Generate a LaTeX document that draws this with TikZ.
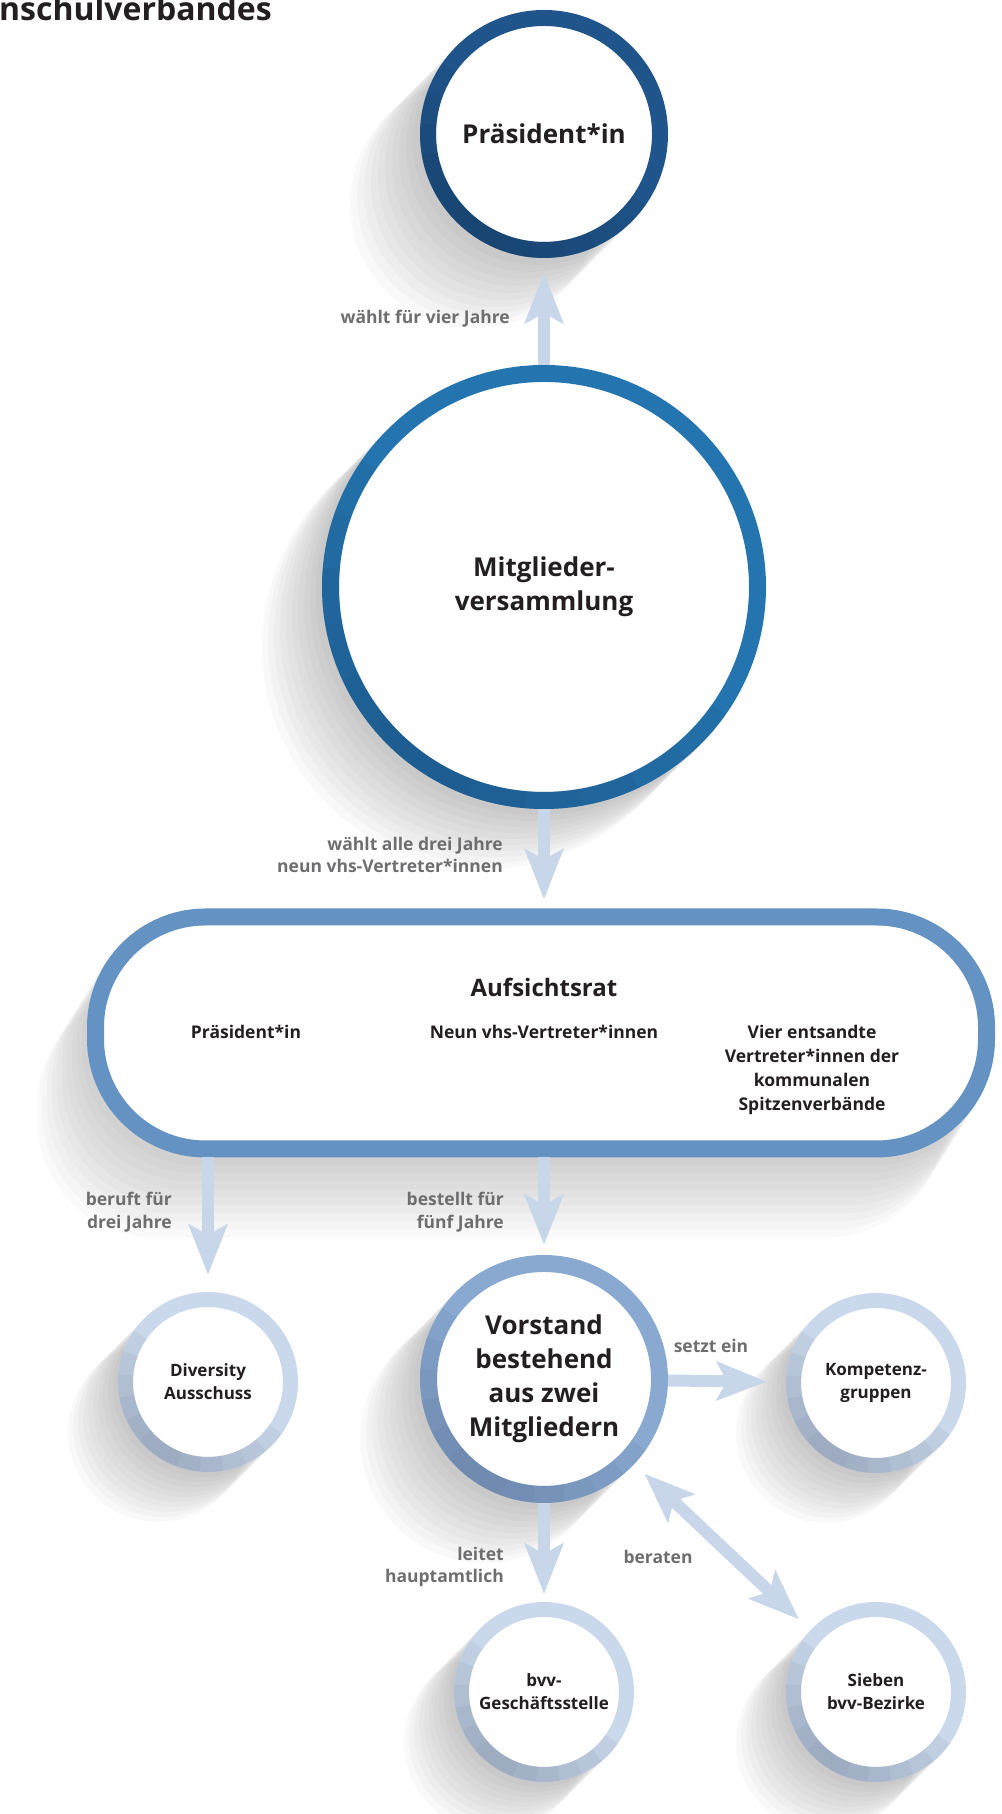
\documentclass[tikz,border=0pt]{standalone}
\usepackage{fontspec}
\setmainfont{Open Sans}
\usetikzlibrary{calc}
\usetikzlibrary{arrows.meta}
\usetikzlibrary{backgrounds}
\usetikzlibrary{positioning}

\definecolor{presblue}{HTML}{1F558A}
\definecolor{presdark}{HTML}{163C62}
\definecolor{mvblue}{HTML}{2474AF}
\definecolor{mvdark}{HTML}{1B4E7C}
\definecolor{arblue}{HTML}{6392C3}
\definecolor{vsblue}{HTML}{89A9D1}
\definecolor{vsdark}{HTML}{5E7598}
\definecolor{lightblue}{HTML}{C9D8EA}
\definecolor{lightdark}{HTML}{7E8CA4}
\definecolor{arrowblue}{HTML}{C7D6E9}
\definecolor{labelgrey}{HTML}{6E6E70}
\definecolor{textblack}{HTML}{231F20}

\begin{document}
\begin{tikzpicture}[x=1pt, y=1pt,
    ring/.style={circle, fill=white, inner sep=0pt, align=center, text=textblack},
    bigtext/.style={font=\fontsize{26}{34}\selectfont\bfseries},
    smalltext/.style={font=\fontsize{17}{23}\selectfont\bfseries},
    member/.style={align=center, inner sep=0pt, text=textblack, font=\fontsize{17.5}{24}\selectfont\bfseries},
    edgelabel/.style={align=right, inner sep=0pt, text=labelgrey, font=\fontsize{17.5}{22.5}\selectfont\bfseries},
    flow/.style={draw=arrowblue, line width=12pt, -{Stealth[length=50pt, width=38pt, inset=10pt]}},
    twoway/.style={draw=arrowblue, line width=12pt, {Stealth[length=50pt, width=38pt, inset=10pt]}-{Stealth[length=50pt, width=38pt, inset=10pt]}}
    ]

    % Constants
    \pgfmathsetmacro{\cx}{544}
    \pgfmathsetmacro{\lx}{208}
    \pgfmathsetmacro{\rx}{876}

    \useasboundingbox (0,0) rectangle (1001,1814);

    % Heading (cut off at the top)
    \node [anchor=base west, inner sep=0pt, text=textblack, font=\fontsize{32}{38}\selectfont\bfseries] (heading) at (-1,1793) {nschulverbandes};

    % Circles
    \node [ring, draw=presblue, line width=16pt, minimum size=232pt, bigtext] (pres) at (\cx,1680) {Präsident*in};
    \node [ring, draw=mvblue, line width=17pt, minimum size=427pt, bigtext] (mv) at (\cx,1227) {Mitglieder-\\versammlung};
    \node [ring, draw=vsblue, line width=17pt, minimum size=231pt, bigtext] (vs) at (\cx,435) {Vorstand\\bestehend\\aus zwei\\Mitgliedern};
    \node [ring, draw=lightblue, line width=15pt, minimum size=165pt, smalltext] (div) at (\lx,432) {Diversity\\Ausschuss};
    \node [ring, draw=lightblue, line width=15pt, minimum size=165pt, smalltext] (kg) at (\rx,431) {Kompetenz-\\gruppen};
    \node [ring, draw=lightblue, line width=15pt, minimum size=165pt, smalltext] (gs) at (\cx,122) {bvv-\\Geschäftsstelle};
    \node [ring, draw=lightblue, line width=15pt, minimum size=165pt, smalltext] (sb) at (\rx,122) {Sieben\\bvv-Bezirke};

    % Aufsichtsrat
    \node [rectangle, rounded corners=110pt, draw=arblue, line width=17pt, fill=white, minimum width=891pt, minimum height=232pt] (ar) at (541,781) {};
    \node [anchor=base, inner sep=0pt, text=textblack, font=\fontsize{24}{30}\selectfont\bfseries] (artitle) at (544,817) {Aufsichtsrat};
    \node [member, anchor=base] (arpres) at (246,775) {Präsident*in};
    \node [member, anchor=base] (arvhs) at (544,775) {Neun vhs-Vertreter*innen};
    \node [member, anchor=north] (arkom) at (812,789) {Vier entsandte\\Vertreter*innen der\\kommunalen\\Spitzenverbände};

    % Darker lower left part of the rings
    \foreach \n/\R/\w/\col in {pres/116/16/presdark, mv/213.5/17/mvdark, vs/115.5/17/vsdark, div/82.5/15/lightdark, kg/82.5/15/lightdark, gs/82.5/15/lightdark, sb/82.5/15/lightdark}{
        \foreach \s in {15,30,...,90}{
            \draw [draw=\col, line width=\w pt, opacity=0.12] ($(\n)+(235-\s:\R)$) arc [start angle=235-\s, end angle=235+\s, radius=\R];
        }
    }

    % Shadows
    \begin{scope}[on background layer]
        \foreach \n/\r/\d in {pres/124/7, mv/222/6, vs/124/6, div/90/5, kg/90/5, gs/90/5, sb/90/5}{
            \foreach \k in {1,...,10}{
                \fill [black, opacity=0.025] ($(\n)+(-\k*\d,-\k*\d)$) circle [radius=\r];
            }
        }
        \foreach \k in {1,...,10}{
            \fill [black, opacity=0.02, rounded corners=118pt] ($(ar.south west)+(-\k*5,-\k*8)$) rectangle ($(ar.north east)+(-\k*5,-\k*8)$);
        }
    \end{scope}

    % Arrows
    \draw [flow, shorten >=15pt] (mv) -- (pres);
    \draw [flow, shorten >=9pt] (mv) -- (mv |- ar.north);
    \draw [flow, shorten >=17pt] (ar.south -| div) -- (div);
    \draw [flow, shorten >=10pt] (ar.south -| vs) -- (vs);
    \draw [flow, shorten >=19pt] (vs) -- (kg);
    \draw [flow, shorten >=8pt] (vs) -- (gs);
    \draw [twoway, shorten <=14pt, shorten >=16pt] (vs) -- (sb);

    % Arrow labels
    \node [edgelabel, anchor=east] (lbvier) at (510,1495) {wählt für vier Jahre};
    \node [edgelabel, anchor=east] (lbneun) at (503,959) {wählt alle drei Jahre\\neun vhs-Vertreter*innen};
    \node [edgelabel, anchor=east] (lbdiv) at (172,602) {beruft für\\drei Jahre};
    \node [edgelabel, anchor=east] (lbvs) at (504,602) {bestellt für\\fünf Jahre};
    \node [edgelabel] (lbkg) at (711,468) {setzt ein};
    \node [edgelabel, anchor=east] (lbgs) at (504,247) {leitet\\hauptamtlich};
    \node [edgelabel] (lbsb) at (658,257) {beraten};

\end{tikzpicture}
\end{document}
